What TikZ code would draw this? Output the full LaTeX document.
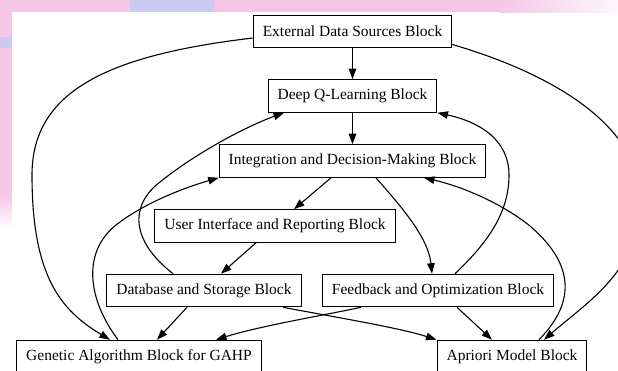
\documentclass[tikz,border=0pt]{standalone}
\usepackage{fontspec}
\setmainfont{Liberation Serif}
\usetikzlibrary{arrows.meta}
\definecolor{wmpink}{RGB}{246,198,232}
\definecolor{wmblue}{RGB}{204,202,242}
\tikzset{
  blockbox/.style={draw=black, line width=1.1pt, rectangle, inner xsep=9.5pt,
    minimum height=32.5pt, fill=white, font=\fontsize{15.5pt}{18pt}\selectfont},
  edge/.style={draw=black, line width=1.1pt, -{Triangle[length=10.5pt,width=7.5pt]}}
}
\begin{document}
\begin{tikzpicture}[x=1pt,y=-1pt]
\useasboundingbox (0,0) rectangle (618,370);
\clip (0,0) rectangle (618,370);
% watermark background
\fill[white] (0,0) rectangle (618,370);
\fill[wmpink] (0,0) rectangle (500,12);
\shade[left color=wmpink, right color=white!85!wmpink] (500,0) rectangle (618,12);
\fill[wmblue] (130,0) rectangle (215,12);
\fill[wmpink] (0,12) rectangle (12,195);
\fill[wmblue] (0,37) rectangle (12,48);
\shade[top color=wmpink, bottom color=white] (0,195) rectangle (12,228);
% nodes
\node[blockbox] (ext)   at (352.5,31.5) {External Data Sources Block};
\node[blockbox] (deepq) at (352.5,96)   {Deep Q-Learning Block};
\node[blockbox] (integ) at (352.5,161)  {Integration and Decision-Making Block};
\node[blockbox] (ui)    at (275,226)    {User Interface and Reporting Block};
\node[blockbox] (db)    at (204,290.5)  {Database and Storage Block};
\node[blockbox] (fb)    at (438,290.5)  {Feedback and Optimization Block};
\node[blockbox] (gen)   at (139,356.5)  {Genetic Algorithm Block for GAHP};
\node[blockbox] (apr)   at (512,356.5)  {Apriori Model Block};
% edges
\draw[edge] (ext) -- (deepq);
\draw[edge] (deepq) -- (integ);
\draw[edge] ([xshift=-21.5pt]integ.south) -- ([xshift=19pt]ui.north);
\draw[edge] ([xshift=23.5pt]integ.south) .. controls (395,200) and (428,235) .. ([xshift=-6pt]fb.north);
\draw[edge] ([xshift=-19pt]ui.south) -- ([xshift=17pt]db.north);
\draw[edge] ([xshift=-17pt]db.south) -- ([xshift=18pt]gen.north);
\draw[edge] ([xshift=79pt]db.south) .. controls (340,318) and (400,328) .. (apr.north west);
\draw[edge] ([xshift=-77pt]fb.south) .. controls (320,316) and (260,326) .. ([xshift=77pt]gen.north);
\draw[edge] ([xshift=19pt]fb.south) -- ([xshift=-20pt]apr.north);
\draw[edge] ([yshift=-6.5pt]ext.west) .. controls (110,55) and (32,90) .. (32,175)
  .. controls (32,275) and (60,310) .. ([xshift=-29pt]gen.north);
\draw[edge] ([yshift=-13pt]ext.east) .. controls (540,70) and (640,120) .. (640,200)
  .. controls (640,270) and (590,300) .. ([xshift=32pt]apr.north);
\draw[edge] ([xshift=-21pt]gen.north) .. controls (88,300) and (80,250) .. (120,222)
  .. controls (150,200) and (190,186) .. (integ.south west);
\draw[edge] ([xshift=-31pt]db.north) .. controls (130,240) and (130,205) .. (160,182)
  .. controls (200,150) and (250,125) .. ([xshift=-68.5pt]deepq.south);
\draw[edge] ([xshift=17pt]fb.north) .. controls (485,245) and (509,215) .. (509,175)
  .. controls (509,140) and (480,122) .. (deepq.south east);
\draw[edge] ([xshift=27pt]apr.north) .. controls (578,300) and (572,262) .. (530,226)
  .. controls (500,202) and (460,186) .. ([xshift=71.5pt]integ.south);
\end{tikzpicture}
\end{document}
